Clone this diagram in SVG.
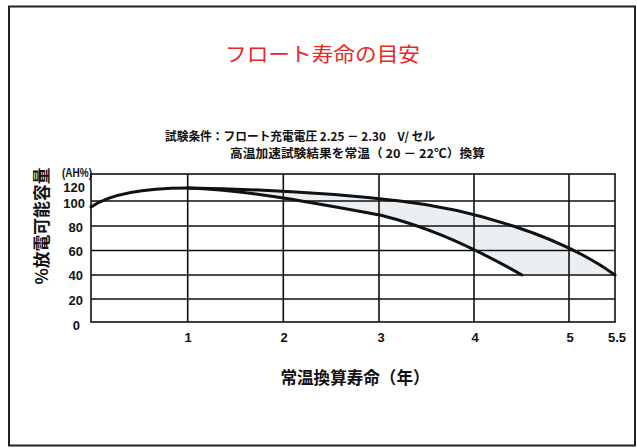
<svg xmlns="http://www.w3.org/2000/svg" width="637" height="448" viewBox="0 0 637 448">
<style>
.jp{font-family:"Noto Sans CJK JP","Noto Sans",sans-serif;font-weight:bold;fill:#111}
.num{font-family:"Liberation Sans",Arial,sans-serif;font-weight:bold;font-size:13px;fill:#111}
.grid{stroke:#111;stroke-width:1.6;fill:none}
.curve{stroke:#111;stroke-width:3;fill:none;stroke-linecap:round;stroke-linejoin:round}
</style>
<rect x="0" y="0" width="637" height="448" fill="#fff"/>
<rect id="frame" x="9" y="6.5" width="626" height="439" fill="none" stroke="#222" stroke-width="2"/>
<g id="title">
<text x="225" y="62" textLength="195" lengthAdjust="spacingAndGlyphs" style="font-family:'Noto Sans CJK JP',sans-serif;font-size:20px;fill:#e52a24">フロート寿命の目安</text>
</g>
<g id="conditions">
<text class="jp" x="165" y="141" font-size="12" textLength="270" lengthAdjust="spacingAndGlyphs">試験条件：フロート充電電圧 2.25 － 2.30　V/ セル</text>
<text class="jp" x="230" y="158" font-size="12" textLength="255" lengthAdjust="spacingAndGlyphs">高温加速試験結果を常温（ 20 － 22℃）換算</text>
</g>
<g id="shade">
<path d="M188,188 C260,189 330,193 400,201 C470,209 560,235 615,275 L522,275 C460,240 420,225 380,215 C320,204 250,190 188,188 Z" fill="#e9eff2"/>
</g>
<g id="grid">
<rect class="grid" x="91" y="174" width="524" height="148" stroke-width="2"/>
<path class="grid" d="M91,201H615M91,226H615M91,250.5H615M91,275H615M91,299H615M187.7,174V322M283.3,174V322M379,174V322M474,174V322M569,174V322"/>
</g>
<g id="connectors">
<path class="curve" d="M91,207 C110,194 140,188 188,188 C260,189 330,193 400,201 C470,209 560,235 615,275"/>
<path class="curve" d="M188,188 C250,190 320,204 380,215 C420,225 460,240 522,275"/>
</g>
<g id="y-axis">
<text class="num" x="62" y="177" font-size="11" textLength="30" lengthAdjust="spacingAndGlyphs">(AH%)</text>
<g text-anchor="end">
<text class="num" x="85" y="192">120</text>
<text class="num" x="85" y="208">100</text>
<text class="num" x="83" y="232">80</text>
<text class="num" x="83" y="256">60</text>
<text class="num" x="83" y="280">40</text>
<text class="num" x="83" y="305">20</text>
<text class="num" x="80" y="330">0</text>
</g>
<text class="jp" transform="translate(48,226) rotate(-90)" text-anchor="middle" font-size="17" textLength="117" lengthAdjust="spacingAndGlyphs">%放電可能容量</text>
</g>
<g id="x-axis" text-anchor="middle">
<text class="num" x="188" y="342">1</text>
<text class="num" x="284" y="342">2</text>
<text class="num" x="381" y="342">3</text>
<text class="num" x="475" y="342">4</text>
<text class="num" x="570" y="342">5</text>
<text class="num" x="617" y="342">5.5</text>
<text class="jp" x="355" y="384" font-size="17" textLength="149" lengthAdjust="spacingAndGlyphs">常温換算寿命（年）</text>
</g>
</svg>
